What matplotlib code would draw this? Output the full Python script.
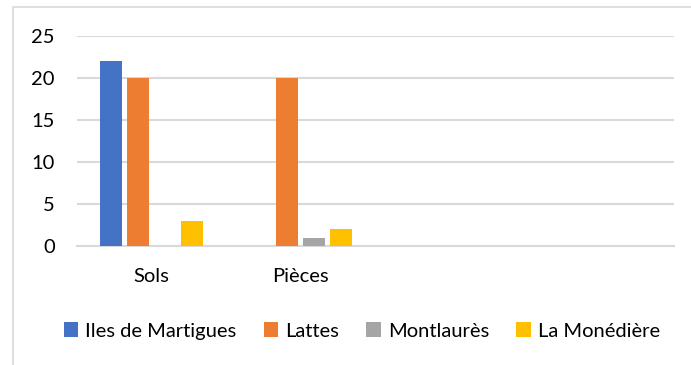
import numpy as np
import matplotlib
matplotlib.use("Agg")
import matplotlib.pyplot as plt
from matplotlib.patches import Rectangle

# Categories (the last two slots are empty in the source sheet)
categories = ["Sols", "Pièces", "", ""]
series_names = ["Iles de Martigues", "Lattes", "Montlaurès", "La Monédière"]
iles_de_martigues = [22, np.nan, np.nan, np.nan]
lattes = [20, 20, np.nan, np.nan]
montlaures = [np.nan, 1, np.nan, np.nan]
la_monediere = [3, 2, np.nan, np.nan]
y_ticks = [0, 5, 10, 15, 20, 25]

series = [iles_de_martigues, lattes, montlaures, la_monediere]
colors = ["#4472C4", "#ED7D31", "#A5A5A5", "#FFC000"]

plt.rcParams["font.family"] = ["Lato", "DejaVu Sans"]
W, H = 691, 365
fig = plt.figure(figsize=(W / 100, H / 100), dpi=100)

# Chart-area frame
fig.patches.append(Rectangle((13 / W, -0.2), 1.2, 1.2 - 7 / H,
                             transform=fig.transFigure, fill=False,
                             edgecolor="#D9D9D9", linewidth=1.2))

ax = fig.add_axes([77 / W, 1 - 246 / H, (674 - 77) / W, (246 - 36) / H])

x = np.arange(len(categories))
bar_w = 0.147
step = 0.18
for i, (name, vals, c) in enumerate(zip(series_names, series, colors)):
    ax.bar(x + (i - 1.5) * step, vals, width=bar_w, color=c, label=name, zorder=3)

ax.set_xlim(-0.5, len(categories) - 0.5)
ax.set_ylim(0, 25)
ax.set_yticks(y_ticks)
ax.set_xticks(x)
ax.set_xticklabels(categories)
ax.grid(axis="y", color="#D9D9D9", linewidth=1.5, zorder=0)
for s in ["top", "right", "left"]:
    ax.spines[s].set_visible(False)
ax.spines["bottom"].set_color("#D9D9D9")
ax.spines["bottom"].set_linewidth(1.5)
ax.tick_params(axis="both", length=0, labelsize=14.5, colors="black")
ax.tick_params(axis="y", pad=16)
ax.tick_params(axis="x", pad=16)

fig.legend(loc="center", bbox_to_anchor=(362 / W, 1 - 331 / H), ncol=4,
           frameon=False, fontsize=14.5, handlelength=0.72, handleheight=0.72,
           handletextpad=0.35, columnspacing=1.35)

fig.savefig("out.png", dpi=100, facecolor="white")
